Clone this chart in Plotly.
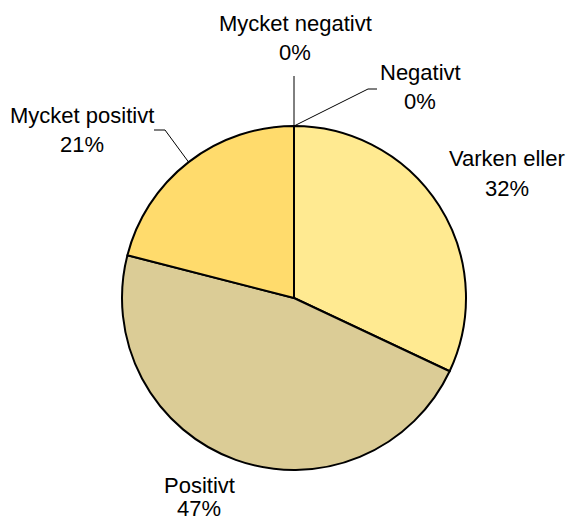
import math
import plotly.graph_objects as go

# survey answers, clockwise from 12 o'clock
labels = ['Mycket negativt', 'Negativt', 'Varken eller', 'Positivt', 'Mycket positivt']
percent = [0, 0, 32, 47, 21]
colors = ['#FFD24D', '#FFF2B0', '#FFEA91', '#DBCC96', '#FFDB6C']

W, H = 567, 523
CX, CY, R = 294, 298, 172  # pie centre / radius in pixels


def paper(x, y):
    return x / W, 1 - y / H


# where each label sits (pixels, centre of name line, gap to % line) and the leader-line elbow
label_pos = {
    'Mycket negativt': dict(x=295, y=23, gap=29, elbow=None, tail=(294, 76)),
    'Negativt': dict(x=420, y=72, gap=29, elbow=(368, 89), tail=(377, 89)),
    'Varken eller': dict(x=507, y=159, gap=29, elbow=None, tail=None),
    'Positivt': dict(x=199, y=485, gap=23, elbow=None, tail=None),
    'Mycket positivt': dict(x=82, y=115, gap=29, elbow=(165, 130), tail=(154, 130)),
}

fig = go.Figure()
fig.add_trace(go.Pie(
    labels=labels, values=percent, sort=False, direction='clockwise', rotation=0,
    marker=dict(colors=colors, line=dict(color='black', width=2)),
    textinfo='none', hoverinfo='label+percent', showlegend=False,
    domain=dict(x=[(CX - R) / W, (CX + R) / W], y=[1 - (CY + R) / H, 1 - (CY - R) / H]),
))

total = sum(percent)
cum = 0
shapes = []
annotations = []
for lab, val in zip(labels, percent):
    mid = (cum + val / 2) / total * 2 * math.pi
    cum += val
    ex, ey = CX + R * math.sin(mid), CY - R * math.cos(mid)
    p = label_pos[lab]
    pts = [(ex, ey)]
    if p['elbow']:
        pts.append(p['elbow'])
    if p['tail']:
        pts.append(p['tail'])
    for (x0, y0), (x1, y1) in zip(pts[:-1], pts[1:]):
        a0, b0 = paper(x0, y0)
        a1, b1 = paper(x1, y1)
        shapes.append(dict(type='line', xref='paper', yref='paper', x0=a0, y0=b0, x1=a1, y1=b1,
                           line=dict(color='black', width=1)))
    for txt, dy in ((lab, 0), (f'{val}%', p['gap'])):
        ax, ay = paper(p['x'], p['y'] + dy)
        annotations.append(dict(text=txt, x=ax, y=ay, xref='paper', yref='paper', showarrow=False,
                                xanchor='center', yanchor='middle', borderpad=0,
                                font=dict(family='Liberation Sans, Arial', size=22, color='black')))

fig.update_layout(width=W, height=H, margin=dict(l=0, r=0, t=0, b=0),
                  paper_bgcolor='white', plot_bgcolor='white',
                  shapes=shapes, annotations=annotations)

fig.write_html('out.html', config={'displayModeBar': False},
               post_script="document.body.style.margin='0';")
